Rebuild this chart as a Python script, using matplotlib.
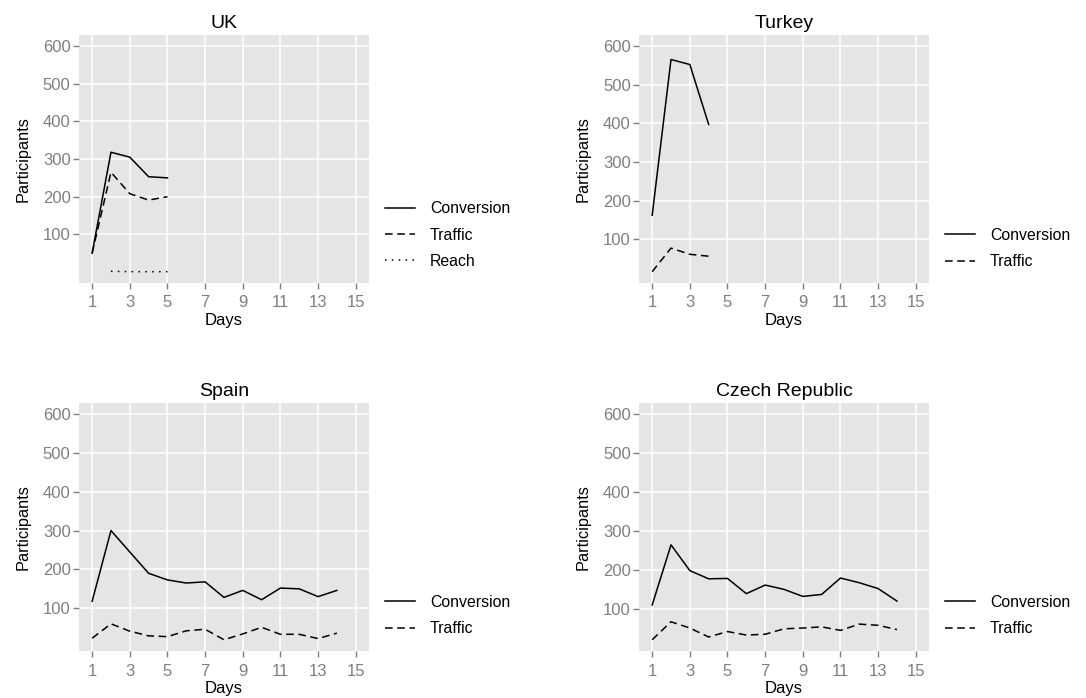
import matplotlib
matplotlib.use("Agg")
import matplotlib.pyplot as plt
import numpy as np

plt.rcParams['font.family'] = ['Liberation Sans', 'DejaVu Sans']

# data
uk_days = [1, 2, 3, 4, 5]
uk_conversion = [50, 318, 305, 253, 250]
uk_traffic = [50, 265, 208, 191, 200]
uk_reach_days = [2, 3, 4, 5]
uk_reach = [2, 1, 1, 1]

tr_days = [1, 2, 3, 4]
tr_conversion = [162, 565, 552, 397]
tr_traffic = [16, 77, 61, 56]

es_days = list(range(1, 15))
es_conversion = [118, 300, 245, 190, 173, 165, 168, 128, 146, 122, 152, 150, 130, 146]
es_traffic = [23, 60, 41, 29, 27, 42, 46, 19, 34, 51, 33, 33, 22, 36]

cz_days = list(range(1, 15))
cz_conversion = [111, 265, 199, 178, 179, 140, 162, 151, 133, 138, 180, 168, 153, 121]
cz_traffic = [22, 68, 52, 29, 43, 34, 36, 50, 52, 55, 46, 62, 59, 48]

x_ticks = [1, 3, 5, 7, 9, 11, 13, 15]
y_ticks = [100, 200, 300, 400, 500, 600]

styles = {
    'Conversion': dict(linestyle='-'),
    'Traffic': dict(linestyle=(0, (5, 3))),
    'Reach': dict(linestyle=(0, (1, 3.5))),
}

panels = [
    ('UK', [0.0727, 0.5946], [('Conversion', uk_days, uk_conversion),
                              ('Traffic', uk_days, uk_traffic),
                              ('Reach', uk_reach_days, uk_reach)], (0.3545, 0.6633)),
    ('Turkey', [0.5884, 0.5946], [('Conversion', tr_days, tr_conversion),
                                  ('Traffic', tr_days, tr_traffic)], (0.870, 0.644)),
    ('Spain', [0.0727, 0.0673], [('Conversion', es_days, es_conversion),
                                 ('Traffic', es_days, es_traffic)], (0.3545, 0.1182)),
    ('Czech Republic', [0.5884, 0.0673], [('Conversion', cz_days, cz_conversion),
                                          ('Traffic', cz_days, cz_traffic)], (0.870, 0.1182)),
]

fig = plt.figure(figsize=(10.86, 6.98), dpi=100)

for title, (left, bottom), series, leg_pos in panels:
    ax = fig.add_axes([left, bottom, 0.267, 0.3557])
    ax.set_facecolor('#E5E5E5')
    for s in ax.spines.values():
        s.set_visible(False)
    ax.grid(True, color='white', linewidth=1.1)
    ax.set_axisbelow(True)

    lo = min(min(v) for _, _, v in series)
    hi = 600
    pad = 0.05 * (hi - lo)
    ax.set_ylim(lo - pad, hi + pad)
    ax.set_xlim(0.3, 15.7)
    ax.set_xticks(x_ticks)
    ax.set_yticks(y_ticks)
    ax.tick_params(colors='#7F7F7F', labelsize=12, length=4, width=1, pad=2)
    ax.tick_params(axis='x', pad=5)

    handles = []
    for name, d, v in series:
        ln, = ax.plot(d, v, color='black', linewidth=1.1, label=name, **styles[name])
        handles.append(ln)

    ax.set_title(title, fontsize=14, pad=5)
    ax.set_xlabel('Days', fontsize=12, labelpad=2)
    ax.set_ylabel('Participants', fontsize=11.8, labelpad=9)

    fig.legend(handles=handles, loc='center left', bbox_to_anchor=leg_pos,
               bbox_transform=fig.transFigure, frameon=False, fontsize=11.4,
               handlelength=1.9, handletextpad=0.95, labelspacing=0.72,
               borderpad=0, borderaxespad=0)

fig.savefig('out.png', dpi=100)
